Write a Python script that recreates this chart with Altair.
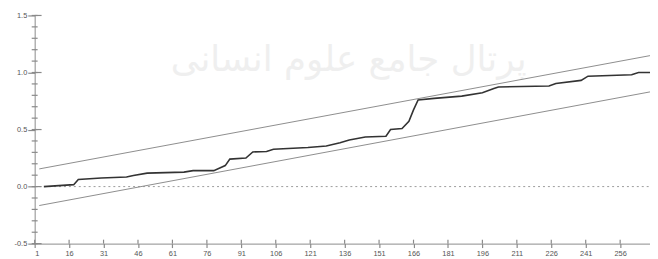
import altair as alt
import pandas as pd

# CUSUM of squares path (observation index, value)
cusum_t = [5, 18, 20, 30, 41, 44, 50, 66, 70, 79, 84, 86, 93, 96, 102, 105, 120, 128,
           134, 138, 145, 154, 156, 161, 164, 166, 168, 175, 187, 196, 201, 203, 225,
           228, 239, 242, 261, 264, 269]
cusum_v = [0.0, 0.017, 0.063, 0.075, 0.084, 0.097, 0.118, 0.127, 0.14, 0.14, 0.184,
           0.241, 0.25, 0.304, 0.308, 0.328, 0.342, 0.356, 0.385, 0.408, 0.434, 0.442,
           0.5, 0.509, 0.572, 0.672, 0.759, 0.773, 0.793, 0.822, 0.859, 0.873, 0.882,
           0.903, 0.931, 0.968, 0.98, 1.0, 1.0]

# 5% significance bounds
bound_t = [3, 269]
upper_v = [0.155, 1.148]
lower_v = [-0.166, 0.830]

zero_t = [3, 269]
zero_v = [0.0, 0.0]

x_ticks = [1, 16, 31, 46, 61, 76, 91, 106, 121, 136, 151, 166, 181, 196, 211, 226, 241, 256]
y_major = [-0.5, 0.0, 0.5, 1.0, 1.5]
y_minor = [-0.5, -0.4, -0.3, -0.2, -0.1, 0.0, 0.1, 0.2, 0.3, 0.4, 0.5, 0.6, 0.7, 0.8,
           0.9, 1.0, 1.1, 1.2, 1.3, 1.4, 1.5]

watermark = "پرتال جامع علوم انسانی"

W, H = 623, 231
AX = "#8a8a8a"

xscale = alt.Scale(domain=[1, 269], nice=False, zero=False)
yscale = alt.Scale(domain=[-0.5, 1.5], nice=False, zero=False)

xaxis = alt.Axis(values=x_ticks, title=None, grid=False, tickSize=4, tickColor=AX,
                 domainColor=AX, labelFontSize=7.5, labelColor="#555555",
                 labelFont="Liberation Sans", labelPadding=2, tickWidth=1.2)
yaxis = alt.Axis(values=y_major, title=None, grid=False, tickSize=7, tickColor=AX,
                 domainColor=AX, labelFontSize=7.5, labelColor="#555555",
                 labelFont="Liberation Sans", labelPadding=1, format=".1f",
                 labelExpr="replace(format(datum.value, '.1f'), '\u2212', '-')",
                 tickWidth=1.2)

X = alt.X("t:Q", scale=xscale, axis=xaxis)
Y = alt.Y("v:Q", scale=yscale, axis=yaxis)

cusum_df = pd.DataFrame({"t": cusum_t, "v": cusum_v})
bounds_df = pd.DataFrame({
    "t": bound_t + bound_t,
    "v": upper_v + lower_v,
    "s": ["upper"] * len(bound_t) + ["lower"] * len(bound_t),
})
zero_df = pd.DataFrame({"t": zero_t, "v": zero_v})
minor_df = pd.DataFrame({"v": y_minor})
major_df = pd.DataFrame({"v": y_major})
xt_df = pd.DataFrame({"t": x_ticks})

wm = alt.Chart(pd.DataFrame({"txt": [watermark]})).mark_text(
    font="DejaVu Sans", fontSize=36, color="#efefef"
).encode(text="txt:N", x=alt.value(318), y=alt.value(45))

zero = alt.Chart(zero_df).mark_line(color="#9a9a9a", strokeDash=[2, 3], strokeWidth=1).encode(x=X, y=Y)

bounds = alt.Chart(bounds_df).mark_line(color="#8c8c8c", strokeWidth=1).encode(
    x=X, y=Y, detail="s:N")

line = alt.Chart(cusum_df).mark_line(color="#333333", strokeWidth=1.6).encode(x=X, y=Y)

minor = alt.Chart(minor_df).mark_rule(color=AX, strokeWidth=1.2).encode(
    y=Y, x=alt.value(-3), x2=alt.value(3))
major = alt.Chart(major_df).mark_rule(color=AX, strokeWidth=1.2).encode(
    y=Y, x=alt.value(0), x2=alt.value(7))
xt = alt.Chart(xt_df).mark_rule(color=AX, strokeWidth=1.2).encode(
    x=X, y=alt.value(H - 4), y2=alt.value(H))

chart = alt.layer(wm, zero, bounds, line, minor, major, xt).properties(
    width=W, height=H, autosize="none",
    padding={"left": 27, "top": 6, "right": 0, "bottom": 14},
    background="white",
).configure_view(stroke=None)

chart.save("out.html", embed_options={"renderer": "svg", "actions": False})
